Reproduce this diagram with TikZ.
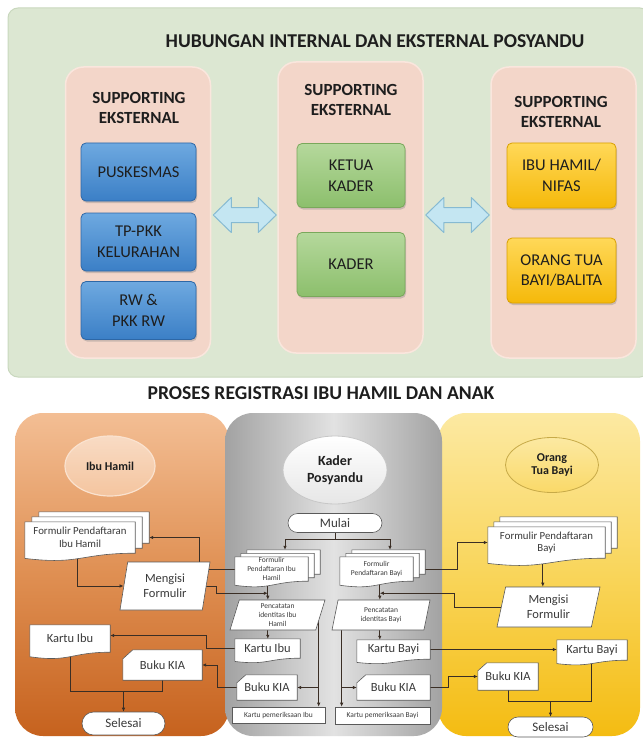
\documentclass[tikz,border=0pt]{standalone}
\usepackage{fontspec}
\setmainfont{Carlito}
\usetikzlibrary{shapes.geometric,arrows.meta,calc,shadows}
\pgfdeclarelayer{bg}\pgfdeclarelayer{ln}\pgfdeclarelayer{shp}
\pgfsetlayers{bg,ln,shp,main}
\definecolor{panelg}{HTML}{DCE7D2}
\definecolor{panelb}{HTML}{C9D8BE}
\definecolor{pinkf}{HTML}{F3D6C9}
\definecolor{pinkb}{HTML}{FAE6DD}
\definecolor{blueT}{HTML}{6EA9E0}
\definecolor{blueB}{HTML}{3B7FC6}
\definecolor{blueD}{HTML}{2D67A6}
\definecolor{greenT}{HTML}{B5D89C}
\definecolor{greenB}{HTML}{8CBF6C}
\definecolor{greenD}{HTML}{79A85B}
\definecolor{yelT}{HTML}{FFD858}
\definecolor{yelB}{HTML}{F5B90A}
\definecolor{yelD}{HTML}{D9A000}
\definecolor{arrf}{HTML}{C4E6F2}
\definecolor{arrd}{HTML}{86BAD2}
\definecolor{txt}{HTML}{1E1E1E}
\definecolor{txt2}{HTML}{3A3A3A}
\definecolor{oT}{HTML}{F3BE94}
\definecolor{oM}{HTML}{DF8F52}
\definecolor{oB}{HTML}{C6621E}
\definecolor{gE}{HTML}{A2A2A2}
\definecolor{gM}{HTML}{E2E2E2}
\definecolor{yT}{HTML}{FCE9A2}
\definecolor{yM}{HTML}{F9D55A}
\definecolor{yB}{HTML}{F4BC12}
\definecolor{flc}{HTML}{5A5A5A}
\definecolor{lnc}{HTML}{3A2E25}
\newcommand\docpath[3]{%
  \filldraw[fshape] let \p1=(#1.north west), \p2=(#1.south east) in
  ({\x1+#2pt},{\y1+#3pt}) -- ({\x2+#2pt},{\y1+#3pt}) -- ({\x2+#2pt},{\y2+#3pt})
  .. controls ({(\x1+\x2)/2+#2pt},{\y2+#3pt}) and ({(\x1+\x2)/2+#2pt},{\y2-0.38*(\y1-\y2)+#3pt}) ..
  ({\x1+#2pt},{\y2-0.165*(\y1-\y2)+#3pt}) -- cycle;}
\newcommand\cardpath[3]{%
  \filldraw[fshape] let \p1=(#1.north west), \p2=(#1.south east) in
  ({\x1+#2pt},{\y1}) -- ({\x2},{\y1}) -- ({\x2},{\y2}) -- ({\x1},{\y2}) -- ({\x1},{\y1-#3pt}) -- cycle;}
\newcommand\dblarrow[3]{%
  \filldraw[dbl] let \p1=(#1.east), \p2=(#2.west), \p3=(0,#3) in
  ({\x1+2pt},{\y3}) -- ({\x1+20pt},{\y3+17.5pt}) -- ({\x1+20pt},{\y3+7.5pt})
  -- ({\x2-19pt},{\y3+7.5pt}) -- ({\x2-19pt},{\y3+17.5pt}) -- ({\x2-1pt},{\y3})
  -- ({\x2-19pt},{\y3-17.5pt}) -- ({\x2-19pt},{\y3-7.5pt}) -- ({\x1+20pt},{\y3-7.5pt})
  -- ({\x1+20pt},{\y3-17.5pt}) -- cycle;}
\begin{document}
\begin{tikzpicture}[x=1pt,y=-1pt,
  panel/.style={rectangle,rounded corners=10,fill=panelg,draw=panelb,line width=1pt},
  pinkcol/.style={rectangle,rounded corners=18,fill=pinkf,draw=pinkb,line width=1.5pt,minimum width=145,minimum height=291},
  ttl/.style={font=\fontsize{19.6}{23}\selectfont\bfseries,text=txt},
  hdr/.style={font=\fontsize{17}{20}\selectfont\bfseries,align=center,text=txt},
  topbox/.style={rectangle,rounded corners=5,line width=0.8pt,font=\fontsize{16.5}{20.5}\selectfont,align=center,text=txt,
     drop shadow={opacity=0.35,shadow xshift=1pt,shadow yshift=-2pt}},
  bluebox/.style={topbox,top color=blueT,bottom color=blueB,draw=blueD,minimum width=115,minimum height=58},
  greenbox/.style={topbox,top color=greenT,bottom color=greenB,draw=greenD,minimum width=108,minimum height=64},
  yelbox/.style={topbox,top color=yelT,bottom color=yelB,draw=yelD,minimum width=109,minimum height=65},
  dbl/.style={fill=arrf,draw=arrd,line width=1pt,line join=round},
  bcol/.style={rectangle,rounded corners=28,minimum height=323},
  ell/.style={ellipse,font=\bfseries,align=center,text=txt},
  fshape/.style={draw=flc,fill=white,line width=0.6pt},
  ftxt/.style={inner sep=0pt,align=center,text=txt2},
  f12/.style={font=\fontsize{12.5}{15}\selectfont},
  f10/.style={font=\fontsize{10.8}{12.5}\selectfont},
  f8/.style={font=\fontsize{7.5}{9}\selectfont},
  para/.style={trapezium,trapezium stretches body,fshape,inner sep=0pt,align=center,text=txt2},
  term/.style={rectangle,fshape,inner sep=0pt,text=txt2,font=\fontsize{13}{15}\selectfont},
  lnk/.style={draw=lnc,line width=0.7pt},
  ar/.style={lnk,-{Latex[length=4pt,width=3.5pt]}}
]
\useasboundingbox (0,0) rectangle (642,738);
\begin{pgfonlayer}{bg}
\fill[white] (0,0) rectangle (642,738);
\end{pgfonlayer}

% ================= TOP =================
\begin{pgfonlayer}{bg}
\node[panel,minimum width=642,minimum height=369] (panel) at (329,192.5) {};
\node[pinkcol] (colL) at (138,212.5) {};
\node[pinkcol] (colM) at (350.5,207.5) {};
\node[pinkcol] (colR) at (563.5,212.5) {};
\end{pgfonlayer}
\node[ttl] (t1) at (375,41) {HUBUNGAN INTERNAL DAN EKSTERNAL POSYANDU};
\node[hdr] (hL) at (139,108) {SUPPORTING\\EKSTERNAL};
\node[hdr] (hM) at (351,100) {SUPPORTING\\EKSTERNAL};
\node[hdr] (hR) at (561,112) {SUPPORTING\\EKSTERNAL};
\node[bluebox] (b1) at (138.5,172) {PUSKESMAS};
\node[bluebox] (b2) at (138.5,242) {TP-PKK\\KELURAHAN};
\node[bluebox] (b3) at (138.5,310.5) {RW \&\\PKK RW};
\node[greenbox] (g1) at (351,175.5) {KETUA\\KADER};
\node[greenbox] (g2) at (351,264.5) {KADER};
\node[yelbox] (y1) at (561.5,175.5) {IBU HAMIL/\\NIFAS};
\node[yelbox] (y2) at (561.5,270.5) {ORANG TUA\\BAYI/BALITA};
\dblarrow{colL}{colM}{215}
\dblarrow{colM}{colR}{215}

% ================= BOTTOM =================
\node[ttl] (t2) at (321,393) {PROSES REGISTRASI IBU HAMIL DAN ANAK};
\begin{pgfonlayer}{bg}
\node[bcol,minimum width=214,top color=oT,bottom color=oB,middle color=oM] (colO) at (122,574.5) {};
\node[bcol,minimum width=202,top color=yT,bottom color=yB,middle color=yM] (colY) at (539,574.5) {};
\node[bcol,minimum width=217,left color=gE,right color=gE,middle color=gM] (colG) at (333.5,574.5) {};
\end{pgfonlayer}
\node[ell,minimum width=90,minimum height=60,top color=oT!55!white,bottom color=oT!90!white,draw=oT!45!white,line width=1.2pt,font=\fontsize{12}{14}\selectfont\bfseries] (eIH) at (110,466) {Ibu Hamil};
\node[ell,minimum width=104,minimum height=68,top color=white,bottom color=gM!85!white,draw=gE!60!white,line width=0.8pt,font=\fontsize{14}{17}\selectfont\bfseries] (eK) at (335,470) {Kader\\Posyandu};
\node[ell,minimum width=93,minimum height=55,top color=yT,bottom color=yM!80!yT,draw=yM!80!black,line width=0.8pt,font=\fontsize{12}{13}\selectfont\bfseries] (eOT) at (552,465) {Orang\\Tua Bayi};

% --- Ibu Hamil column
\node[ftxt,f10,minimum width=110,minimum height=31] (fIH) at (80,537.5) {Formulir Pendaftaran\\Ibu Hamil};
\node[para,trapezium left angle=72,trapezium right angle=108,minimum width=90,minimum height=48,f12] (mIH) at (165,586) {Mengisi\\Formulir};
\node[ftxt,f12,minimum width=80,minimum height=27] (kIH) at (70,638.5) {Kartu Ibu};
\node[ftxt,f12,minimum width=79,minimum height=30] (bIH) at (162.5,665) {Buku KIA};
\node[term,rounded corners=11.5,minimum width=83,minimum height=23] (sIH) at (123.5,723.5) {Selesai};

% --- Kader column
\node[term,rounded corners=9.5,minimum width=94,minimum height=19] (mulai) at (335,523) {Mulai};
\node[ftxt,f8,minimum width=73,minimum height=24] (fKI) at (271.5,569) {Formulir\\Pendaftaran Ibu\\Hamil};
\node[ftxt,f8,minimum width=73,minimum height=24] (fKB) at (376.5,569) {Formulir\\Pendaftaran Bayi};
\node[para,trapezium left angle=68,trapezium right angle=112,minimum width=95,minimum height=30,f8] (pKI) at (277.5,615) {Pencatatan\\identitas Ibu\\Hamil};
\node[para,trapezium left angle=68,trapezium right angle=112,minimum width=98,minimum height=30,f8] (pKB) at (381,615) {Pencatatan\\identitas Bayi};
\node[ftxt,f12,minimum width=65,minimum height=19] (kKI) at (267.5,648.5) {Kartu Ibu};
\node[ftxt,f12,minimum width=73,minimum height=19] (kKB) at (393.5,649.5) {Kartu Bayi};
\node[ftxt,f12,minimum width=60,minimum height=25] (bKI) at (267,687.5) {Buku KIA};
\node[ftxt,f12,minimum width=73,minimum height=25] (bKB) at (393.5,687.5) {Buku KIA};
\node[rectangle,fshape,inner sep=0pt,text=txt2,f8,minimum width=93,minimum height=16] (cKI) at (278.5,715) {Kartu pemeriksaan Ibu};
\node[rectangle,fshape,inner sep=0pt,text=txt2,f8,minimum width=95,minimum height=17] (cKB) at (382.5,715.5) {Kartu pemeriksaan Bayi};

% --- Orang Tua column
\node[ftxt,f10,minimum width=117,minimum height=31] (fOT) at (546.5,542.5) {Formulir Pendaftaran\\Bayi};
\node[para,trapezium left angle=70,trapezium right angle=110,minimum width=103,minimum height=40,f12] (mOT) at (548.5,607) {Mengisi\\Formulir};
\node[ftxt,f12,minimum width=70,minimum height=20] (kOT) at (592,650) {Kartu Bayi};
\node[ftxt,f12,minimum width=60,minimum height=27] (bOT) at (508,676.5) {Buku KIA};
\node[term,rounded corners=10,minimum width=85,minimum height=20] (sOT) at (550.5,727) {Selesai};

% --- custom shapes
\begin{pgfonlayer}{shp}
\docpath{fIH}{14}{10}\docpath{fIH}{7}{5}\docpath{fIH}{0}{0}
\docpath{fKI}{12}{7}\docpath{fKI}{6}{3.5}\docpath{fKI}{0}{0}
\docpath{fKB}{12}{7}\docpath{fKB}{6}{3.5}\docpath{fKB}{0}{0}
\docpath{fOT}{12}{10}\docpath{fOT}{6}{5}\docpath{fOT}{0}{0}
\docpath{kIH}{0}{0}\docpath{kKI}{0}{0}\docpath{kKB}{0}{0}\docpath{kOT}{0}{0}
\cardpath{bIH}{10}{9}\cardpath{bKI}{9}{8}\cardpath{bKB}{9}{8}\cardpath{bOT}{9}{8}
\end{pgfonlayer}

% --- connectors
\begin{pgfonlayer}{ln}
\draw[lnk] (mulai.south) -- ++(0,7) coordinate (m1);
\draw[ar] (m1) -| ($(fKI.north)+(13.5,-7)$);
\draw[ar] (m1) -| ($(fKB.north)+(13.5,-7)$);
\draw[ar] (fKI.west) -- ++(-35,0) |- ($(fIH.east)+(14,0)$);
\draw[ar] ($(fIH.south west)+(53,0)$) |- (mIH.west);
\coordinate (jI) at ($(fKI.south west)+(33,12)$);
\draw[ar] (mIH.east) -- ++(10,0) |- (jI);
\draw[ar] ($(fKI.south west)+(33,0)$) -- (jI |- pKI.north);
\draw[ar] (jI |- pKI.south) -- (jI |- kKI.north);
\draw[ar] (kKI.west) -- ++(-28,0) |- ($(kIH.east)+(0,-3)$);
\coordinate (vI) at ($(pKI.east)+(-2,0)$);
\draw[ar] (vI) -- (vI |- cKI.north);
\draw[ar] (vI |- bKI.east) -- (bKI.east);
\draw[ar] (bKI.west) -- ++(-19,0) |- (bIH.east);
\coordinate (jB) at ($(fKB.south west)+(40,12)$);
\draw[ar] ($(fKB.south west)+(40,0)$) -- (jB |- pKB.north);
\draw[ar] (mOT.west) -- ++(-47,0) |- (jB);
\draw[ar] (jB |- pKB.south) -- (jB |- kKB.north);
\coordinate (vB) at ($(pKB.bottom left corner)+(10,0)$);
\draw[ar] (vB) -- (vB |- cKB.north);
\draw[ar] (vB |- bKB.west) -- (bKB.west);
\draw[ar] (fKB.east) -- ++(44,0) |- (fOT.west);
\coordinate (fOTb) at ($(fOT.south west)+(55,0)$);
\draw[ar] (fOTb) -- (fOTb |- mOT.north);
\draw[ar] (kKB.east) -- (kKB.east -| kOT.west);
\draw[ar] (bKB.east) -- ++(18,0) |- (bOT.west);
\coordinate (sj) at ($(sOT.north)+(0,-15)$);
\draw[lnk] ($(kOT.south west)+(35,0)$) |- (sj);
\draw[lnk] (bOT.south) |- (sj);
\draw[ar] (sj) -- (sOT.north);
\coordinate (sj2) at ($(sIH.north)+(0,-20)$);
\draw[lnk] (kIH.south) |- (sj2);
\draw[lnk] (bIH.south) |- (sj2);
\draw[ar] (sj2) -- (sIH.north);
\end{pgfonlayer}
\end{tikzpicture}
\end{document}
